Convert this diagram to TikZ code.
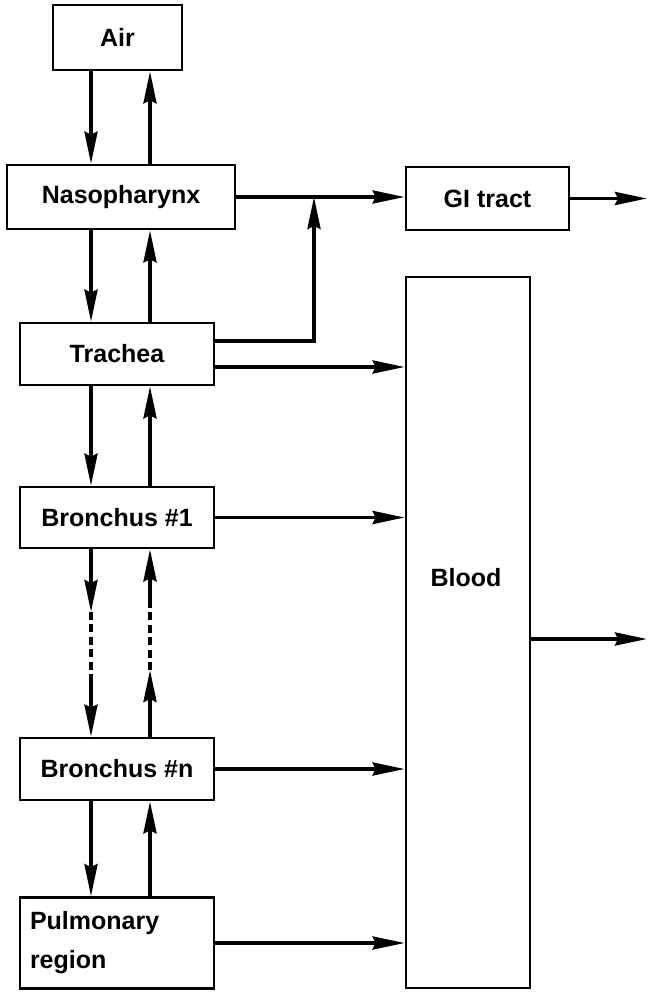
\documentclass[tikz,border=0pt]{standalone}
\usepackage{fontspec}
\setsansfont{Liberation Sans}
\usetikzlibrary{arrows.meta, calc}

\begin{document}
\begin{tikzpicture}[x=0.5pt, y=-0.5pt,
        box/.style={draw, line width=1.35pt, inner sep=0pt, font=\sffamily\bfseries\fontsize{12.5}{19.5}\selectfont},
        flow/.style={-{Stealth[length=16pt, width=6.5pt, inset=1.5pt]}, line width=1.8pt},
        dotline/.style={line width=2pt, dash pattern=on 4pt off 2.2pt},
        lbl/.style={font=\sffamily\bfseries\fontsize{12.5}{15}\selectfont}
      ]
        \useasboundingbox (0,0) rectangle (648,994);
        \node[box, minimum width=64.5pt, minimum height=32.5pt] (air)   at (117.5, 37.5) {Air};
        \node[box, minimum width=114pt,  minimum height=32pt]   (naso)  at (121, 197)    {Nasopharynx};
        \node[box, minimum width=81.5pt, minimum height=31.5pt] (gi)    at (487.5, 198.5) {GI tract};
        \node[box, minimum width=97pt,   minimum height=31pt]   (trach) at (117, 354)    {Trachea};
        \node[box, minimum width=97pt,   minimum height=30.5pt] (b1)    at (117, 517.5)  {Bronchus \#1};
        \node[box, minimum width=97pt,   minimum height=31pt]   (bn)    at (117, 769)    {Bronchus \#n};
        \node[box, minimum height=45.5pt, text width=87pt, inner xsep=5pt, align=left] (pulm) at (117, 943) {Pulmonary\\region};
        \node[box, minimum width=62pt,   minimum height=355.5pt] (blood) at (468, 632.5) {};
        \node[lbl] (bloodtxt) at (466, 578) {Blood};
        % columns of the up/down arrows
        \coordinate (xd) at (91, 0);
        \coordinate (xu) at (150, 0);
        \coordinate (jn) at (314, 0);
        \coordinate (rim) at (647, 0);
        \foreach \a/\b in {air/naso, naso/trach, trach/b1, bn/pulm} {
          \draw[flow] (\a.south -| xd) -- (\b.north -| xd);
          \draw[flow] (\b.north -| xu) -- (\a.south -| xu);
        }
        % broken part between the bronchi
        \coordinate (d1) at (91, 612);
        \coordinate (d2) at (91, 674);
        \coordinate (u1) at (150, 670);
        \coordinate (u2) at (150, 606);
        \draw[flow] (b1.south -| xd) -- (d1);
        \draw[dotline] (d1) -- (d2);
        \draw[flow] (d2) -- (bn.north -| xd);
        \draw[flow] (bn.north -| xu) -- (u1);
        \draw[dotline] (u1) -- (u2);
        \draw[flow] (u2) -- (b1.south -| xu);
        % to the GI tract and the blood
        \draw[flow] (naso.east) -- (naso.east -| gi.west);
        \draw[flow] ([yshift=6.5pt]trach.east) -| (naso.east -| jn);
        \draw[flow] ([yshift=-6.5pt]trach.east) coordinate (t2) -- (t2 -| blood.west);
        \foreach \n in {b1, bn, pulm} { \draw[flow] (\n.east) -- (\n.east -| blood.west); }
        \draw[flow] (gi.east) -- (gi.east -| rim);
        \coordinate (bo) at (0, 639);
        \draw[flow] (blood.east |- bo) -- (rim |- bo);
      \end{tikzpicture}
\end{document}
